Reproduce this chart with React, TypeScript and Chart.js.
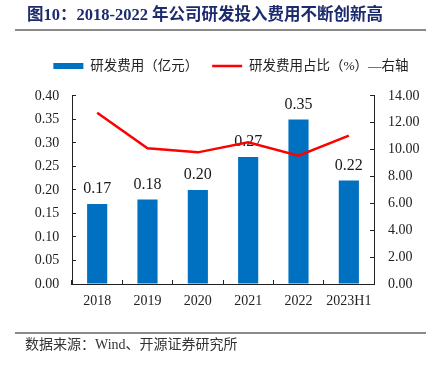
import React, { useEffect, useRef } from "react";
import { Chart, registerables } from "chart.js";

Chart.register(...registerables);

const categories = ["2018", "2019", "2020", "2021", "2022", "2023H1"];
const rdExpense = [0.17, 0.18, 0.2, 0.27, 0.35, 0.22];
const rdRatio = [12.75, 10.1, 9.8, 10.55, 9.55, 11.05];
const leftTicks = { min: 0, max: 0.4, step: 0.05 };
const rightTicks = { min: 0, max: 14, step: 2 };
const barLabel = "研发费用（亿元）";
const lineLabel = "研发费用占比（%）—右轴";
const titleText = "图10：2018-2022 年公司研发投入费用不断创新高";
const sourceText = "数据来源：Wind、开源证券研究所";

const FONT = '"Liberation Serif", "Noto Sans CJK SC", serif';
const BLUE = "#0070C0";
const RED = "#FF0000";
const AXIS = "#222222";

const barLabelsPlugin = {
  id: "barLabels",
  afterDatasetDraw(chart: any, args: any) {
    if (args.index !== 0) return;
    const ctx = chart.ctx;
    const meta = chart.getDatasetMeta(0);
    ctx.save();
    ctx.font = `16px ${FONT}`;
    ctx.fillStyle = "#1a1a1a";
    ctx.textAlign = "center";
    ctx.textBaseline = "middle";
    meta.data.forEach((el: any, i: number) => {
      ctx.fillText(rdExpense[i].toFixed(2), el.x, el.y - 15);
    });
    ctx.restore();
  },
};

export default function App() {
  const ref = useRef<HTMLCanvasElement | null>(null);
  useEffect(() => {
    if (!ref.current) return;
    const chart = new Chart(ref.current, {
      type: "bar",
      data: {
        labels: categories,
        datasets: [
          {
            type: "bar",
            label: barLabel,
            data: rdExpense,
            backgroundColor: BLUE,
            barPercentage: 0.4,
            categoryPercentage: 1,
            yAxisID: "y",
            order: 2,
          },
          {
            type: "line",
            label: lineLabel,
            data: rdRatio,
            borderColor: RED,
            backgroundColor: RED,
            borderWidth: 2.5,
            pointRadius: 0,
            tension: 0,
            yAxisID: "y1",
            order: 1,
          },
        ],
      } as any,
      options: {
        responsive: false,
        animation: false,
        layout: { padding: { top: 45.25, left: 30, right: 0, bottom: 40 } },
        plugins: {
          tooltip: { enabled: false },
          title: { display: false },
          subtitle: {
            display: true,
            text: " ",
            position: "top",
            weight: 500,
            padding: 0,
            font: { size: 11, lineHeight: 1.2 },
          },
          legend: {
            display: true,
            position: "top",
            labels: {
              usePointStyle: true,
              pointStyleWidth: 30,
              boxHeight: 6,
              padding: 14,
              color: AXIS,
              font: { size: 13.5, family: FONT },
              generateLabels: () => [
                {
                  text: barLabel,
                  fillStyle: BLUE,
                  strokeStyle: BLUE,
                  lineWidth: 0,
                  pointStyle: "rect",
                  datasetIndex: 0,
                  fontColor: AXIS,
                },
                {
                  text: lineLabel,
                  fillStyle: RED,
                  strokeStyle: RED,
                  lineWidth: 2.5,
                  pointStyle: "line",
                  datasetIndex: 1,
                  fontColor: AXIS,
                },
              ],
            },
          },
        },
        scales: {
          x: {
            type: "category",
            position: "bottom",
            grid: {
              drawOnChartArea: false,
              drawTicks: true,
              tickLength: -4,
              color: AXIS,
              offset: true,
            },
            border: { display: true, color: AXIS, width: 1 },
            ticks: {
              color: AXIS,
              padding: 12.5,
              font: { size: 14, family: FONT },
              maxRotation: 0,
              autoSkip: false,
            },
            afterFit: (s: any) => {
              s.height = 42;
            },
          },
          y: {
            type: "linear",
            position: "left",
            min: leftTicks.min,
            max: leftTicks.max,
            grid: {
              drawOnChartArea: false,
              drawTicks: true,
              tickLength: -4,
              color: AXIS,
            },
            border: { display: true, color: AXIS, width: 1 },
            ticks: {
              stepSize: leftTicks.step,
              color: AXIS,
              padding: 16.7,
              font: { size: 14, family: FONT },
              callback: (v: any) => Number(v).toFixed(2),
            },
            afterFit: (s: any) => {
              s.width = 42;
            },
          },
          y1: {
            type: "linear",
            position: "right",
            min: rightTicks.min,
            max: rightTicks.max,
            grid: {
              drawOnChartArea: false,
              drawTicks: true,
              tickLength: -4,
              color: AXIS,
            },
            border: { display: true, color: AXIS, width: 1 },
            ticks: {
              stepSize: rightTicks.step,
              color: AXIS,
              padding: 18,
              font: { size: 14, family: FONT },
              callback: (v: any) => Number(v).toFixed(2),
            },
            afterFit: (s: any) => {
              s.width = 58;
            },
          },
        },
      } as any,
      plugins: [barLabelsPlugin],
    });
    return () => chart.destroy();
  }, []);

  return (
    <div
      style={{
        position: "fixed",
        left: 0,
        top: 0,
        width: 432,
        height: 366,
        background: "#fff",
        overflow: "hidden",
      }}
    >
      <canvas
        ref={ref}
        width={432}
        height={366}
        style={{ position: "absolute", left: 0, top: 0, width: 432, height: 366 }}
      />
      <div
        style={{
          position: "absolute",
          left: 27,
          top: 5,
          lineHeight: "20px",
          fontSize: 16.5,
          fontWeight: "bold",
          fontFamily: FONT,
          color: "#1c2b6e",
          whiteSpace: "nowrap",
        }}
      >
        {titleText}
      </div>
      <div
        style={{
          position: "absolute",
          left: 15,
          top: 29,
          width: 411,
          height: 1.5,
          background: "#8a8a8a",
        }}
      />
      <div
        style={{
          position: "absolute",
          left: 15,
          top: 332,
          width: 411,
          height: 1.5,
          background: "#8a8a8a",
        }}
      />
      <div
        style={{
          position: "absolute",
          left: 25,
          top: 336,
          lineHeight: "18px",
          fontSize: 14,
          fontFamily: FONT,
          color: "#333",
          whiteSpace: "nowrap",
        }}
      >
        {sourceText}
      </div>
    </div>
  );
}
